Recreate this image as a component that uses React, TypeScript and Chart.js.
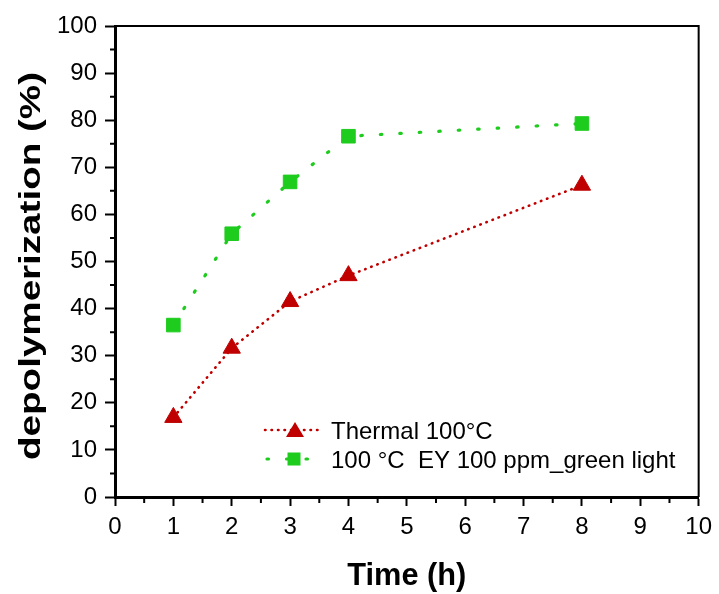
import React, { useEffect, useRef } from "react";
import { Chart, registerables } from "chart.js";

Chart.register(...registerables);

const timeHours = [1, 2, 3, 4, 8];
const thermalValues = [16.9, 31.6, 41.5, 47.0, 66.2];
const greenLightValues = [36.5, 55.9, 66.9, 76.6, 79.3];
const seriesLabels = ["Thermal 100°C", "100 °C  EY 100 ppm_green light"];
const xAxisTitle = "Time (h)";
const yAxisTitle = "depolymerization (%)";

const RED = "#C00000";
const GREEN = "#1ECC1E";
const FONT = "'Liberation Sans', Arial, sans-serif";
const RED_DASH = [0.5, 6];
const GREEN_DASH = [1.5, 18];

const framePlugin = {
  id: "frame",
  afterDraw(chart: any) {
    const { ctx, chartArea } = chart;
    const { left, right, top, bottom } = chartArea;
    ctx.save();
    ctx.strokeStyle = "#000";
    ctx.lineWidth = 2;
    ctx.beginPath();
    ctx.moveTo(left, top);
    ctx.lineTo(right, top);
    ctx.lineTo(right, bottom);
    ctx.stroke();
    // minor ticks
    ctx.lineWidth = 2;
    const xs = chart.scales.x;
    const ys = chart.scales.y;
    ctx.beginPath();
    for (let v = 0.5; v < 10; v += 1) {
      const px = xs.getPixelForValue(v);
      ctx.moveTo(px, bottom);
      ctx.lineTo(px, bottom + 6);
    }
    for (let v = 5; v < 100; v += 10) {
      const py = ys.getPixelForValue(v);
      ctx.moveTo(left, py);
      ctx.lineTo(left - 5, py);
    }
    ctx.stroke();

    // axis titles
    ctx.fillStyle = "#000";
    ctx.textAlign = "center";
    ctx.textBaseline = "alphabetic";
    ctx.font = `bold 31px ${FONT}`;
    const wx = ctx.measureText(xAxisTitle).width;
    ctx.save();
    ctx.translate((left + right) / 2, 585);
    ctx.scale(119 / wx, 1);
    ctx.fillText(xAxisTitle, 0, 0);
    ctx.restore();

    ctx.font = `bold 30px ${FONT}`;
    const wy = ctx.measureText(yAxisTitle).width;
    ctx.save();
    ctx.translate(39.5, 266);
    ctx.rotate(-Math.PI / 2);
    ctx.scale(388 / wy, 1);
    ctx.fillText(yAxisTitle, 0, 0);
    ctx.restore();

    // custom legend
    const items = [
      { label: seriesLabels[0], color: RED, dash: RED_DASH, width: 2.6, style: "triangle", r: 10, y: 430, x0: 265, x1: 318, cx: 295 },
      { label: seriesLabels[1], color: GREEN, dash: GREEN_DASH, width: 3.2, style: "rect", r: 9.2, y: 459, x0: 267, x1: 310, cx: 294 },
    ];
    for (const it of items) {
      ctx.save();
      ctx.strokeStyle = it.color;
      ctx.lineWidth = it.width;
      ctx.lineCap = "round";
      ctx.setLineDash(it.dash);
      ctx.beginPath();
      ctx.moveTo(it.x0, it.y);
      ctx.lineTo(it.x1, it.y);
      ctx.stroke();
      ctx.restore();
      ctx.save();
      ctx.fillStyle = it.color;
      const cx = it.cx;
      if (it.style === "triangle") {
        const r = it.r;
        const cy = it.y + 2;
        ctx.beginPath();
        ctx.moveTo(cx, cy - r);
        ctx.lineTo(cx + r * 0.9, cy + r * 0.5);
        ctx.lineTo(cx - r * 0.9, cy + r * 0.5);
        ctx.closePath();
        ctx.fill();
      } else {
        const s = it.r * Math.SQRT1_2;
        ctx.fillRect(cx - s, it.y - s, 2 * s, 2 * s);
      }
      ctx.restore();
      ctx.save();
      ctx.fillStyle = "#000";
      ctx.font = `24px ${FONT}`;
      ctx.textBaseline = "alphabetic";
      ctx.textAlign = "left";
      ctx.fillText(it.label, 331, it.y + 9);
      ctx.restore();
    }
    ctx.restore();
  },
};

export default function App() {
  const canvasRef = useRef<HTMLCanvasElement | null>(null);

  useEffect(() => {
    const canvas = canvasRef.current;
    if (!canvas) return;
    const chart = new Chart(canvas, {
      type: "line",
      data: {
        datasets: [
          {
            label: seriesLabels[0],
            data: timeHours.map((t, i) => ({ x: t, y: thermalValues[i] })),
            borderColor: RED,
            backgroundColor: RED,
            borderWidth: 2.6,
            borderDash: RED_DASH,
            borderCapStyle: "round",
            pointStyle: "triangle",
            pointRadius: 10,
            pointBorderWidth: 1,
            fill: false,
            tension: 0,
          },
          {
            label: seriesLabels[1],
            data: timeHours.map((t, i) => ({ x: t, y: greenLightValues[i] })),
            borderColor: GREEN,
            backgroundColor: GREEN,
            borderWidth: 3.2,
            borderDash: GREEN_DASH,
            borderCapStyle: "round",
            pointStyle: "rect",
            pointRadius: 9.6,
            pointBorderWidth: 1,
            fill: false,
            tension: 0,
          },
        ],
      },
      options: {
        animation: false,
        responsive: false,
        maintainAspectRatio: false,
        layout: { padding: { top: 26, right: 20, left: 0, bottom: 0 } },
        plugins: {
          legend: { display: false },
          tooltip: { enabled: false },
        },
        scales: {
          x: {
            type: "linear",
            min: 0,
            max: 10,
            afterFit: (s: any) => {
              s.height = 97;
            },
            ticks: {
              stepSize: 1,
              color: "#000",
              font: { family: FONT, size: 24 },
              padding: 7,
              maxRotation: 0,
            },
            grid: {
              display: true,
              drawOnChartArea: false,
              drawTicks: true,
              tickLength: 9,
              tickWidth: 2,
              tickColor: "#000",
            },
            border: { display: true, color: "#000", width: 3 },
            title: { display: false },
          },
          y: {
            type: "linear",
            min: 0,
            max: 100,
            afterFit: (s: any) => {
              s.width = 115;
            },
            ticks: {
              stepSize: 10,
              color: "#000",
              font: { family: FONT, size: 24 },
              padding: 8,
            },
            grid: {
              display: true,
              drawOnChartArea: false,
              drawTicks: true,
              tickLength: 10,
              tickWidth: 2,
              tickColor: "#000",
            },
            border: { display: true, color: "#000", width: 3 },
            title: { display: false },
          },
        },
      },
      plugins: [framePlugin],
    } as any);
    return () => chart.destroy();
  }, []);

  return (
    <div style={{ position: "fixed", left: 0, top: 0, width: 719, height: 594, background: "#fff" }}>
      <canvas ref={canvasRef} width={719} height={594} style={{ width: 719, height: 594, display: "block" }} />
    </div>
  );
}
